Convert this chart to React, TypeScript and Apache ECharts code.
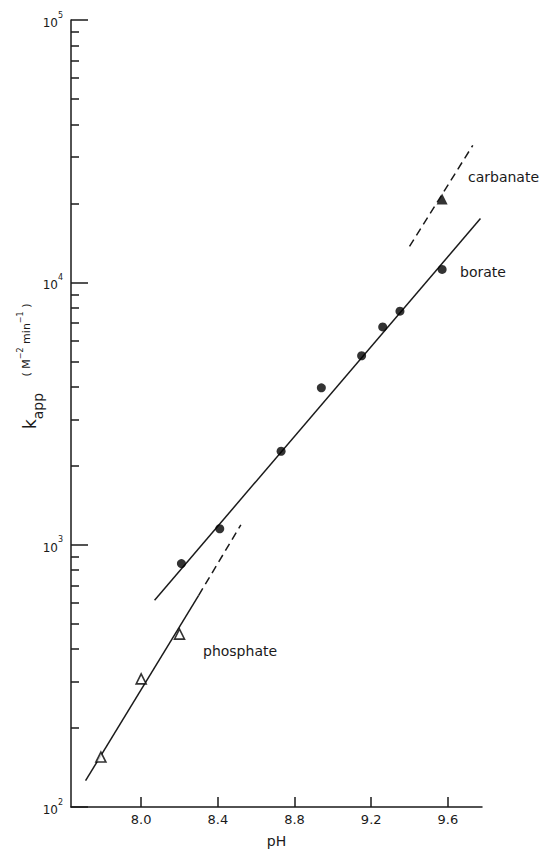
import React, { useEffect, useRef } from "react";
import * as echarts from "echarts";

const FONT = "'DejaVu Sans', 'Liberation Sans', sans-serif";
const INK = "#1a1a1a";

// pH axis
const X_MIN = 7.634;
const X_MAX = 9.778;
const xTicks = [8.0, 8.4, 8.8, 9.2, 9.6];

// k_app axis (decade exponents and minor tick values)
const yDecadeMin = 2;
const yDecadeMax = 5;
const yMinorTicks = [
  200, 300, 400, 500, 600, 700, 800, 900,
  2000, 3000, 4000, 5000, 6000, 7000, 8000, 9000,
  20000, 30000, 40000, 50000, 60000, 70000, 80000, 90000,
];

// measured points
const boratePH = [8.21, 8.41, 8.73, 8.94, 9.15, 9.26, 9.35, 9.57];
const borateK = [847, 1150, 2270, 3960, 5250, 6760, 7760, 11200];
const phosphatePH = [7.79, 8.0, 8.2];
const phosphateK = [155, 308, 456];
const carbonatePH = [9.57];
const carbonateK = [20800];

// fitted lines
const borateFitPH = [8.07, 9.77];
const borateFitK = [614, 17500];
const phosphateFitPH = [7.71, 8.3];
const phosphateFitK = [126, 641];
const phosphateExtPH = [8.3, 8.52];
const phosphateExtK = [641, 1190];
const carbonateFitPH = [9.4, 9.73];
const carbonateFitK = [13700, 33300];

const lg = (v: number) => Math.log10(v);
const pairs = (xs: number[], ks: number[]) => xs.map((x, i) => [x, lg(ks[i])]);

export default function App() {
  const ref = useRef<HTMLDivElement>(null);

  useEffect(() => {
    const chart = echarts.init(ref.current!, null, { renderer: "svg" });

    const lineSeries = (name: string, data: number[][], dashed: boolean) => ({
      name,
      type: "line",
      data,
      symbol: "none",
      showSymbol: false,
      silent: true,
      z: 2,
      lineStyle: { color: INK, width: 1.5, type: dashed ? [8, 5] : "solid" },
    });

    chart.setOption({
      animation: false,
      backgroundColor: "#ffffff",
      grid: { left: 71, right: 58, top: 20, bottom: 42 },
      xAxis: {
        type: "value",
        min: X_MIN,
        max: X_MAX,
        name: "pH",
        nameLocation: "middle",
        nameGap: 27,
        nameTextStyle: { color: INK, fontSize: 14, fontFamily: FONT },
        axisLine: { show: true, onZero: false, lineStyle: { color: INK, width: 1.5 } },
        axisTick: {
          show: true,
          inside: true,
          length: 10,
          customValues: xTicks,
          lineStyle: { color: INK, width: 1.5 },
        },
        axisLabel: {
          show: true,
          customValues: xTicks,
          formatter: (v: number) => v.toFixed(1),
          margin: 6,
          color: INK,
          fontSize: 13,
          fontFamily: FONT,
        },
        splitLine: { show: false },
      },
      yAxis: [
        {
          type: "value",
          min: yDecadeMin,
          max: yDecadeMax,
          interval: 1,
          position: "left",
          axisLine: { show: true, onZero: false, lineStyle: { color: INK, width: 1.5 } },
          axisTick: { show: true, inside: true, length: 17, lineStyle: { color: INK, width: 1.5 } },
          axisLabel: {
            margin: 8,
            formatter: (v: number) => `{b|10}{s|${v}}`,
            rich: {
              b: { fontSize: 12, fontFamily: FONT, color: INK, lineHeight: 18, verticalAlign: "bottom" },
              s: { fontSize: 8, fontFamily: FONT, color: INK, lineHeight: 18, verticalAlign: "top" },
            },
          },
          splitLine: { show: false },
        },
        {
          type: "value",
          min: yDecadeMin,
          max: yDecadeMax,
          position: "left",
          offset: 0,
          axisLine: { show: false },
          axisTick: {
            show: true,
            inside: true,
            length: 8,
            customValues: yMinorTicks.map(lg),
            lineStyle: { color: INK, width: 1.5 },
          },
          axisLabel: { show: false },
          splitLine: { show: false },
        },
      ],
      series: [
        lineSeries("borate fit", pairs(borateFitPH, borateFitK), false),
        lineSeries("phosphate fit", pairs(phosphateFitPH, phosphateFitK), false),
        lineSeries("phosphate ext", pairs(phosphateExtPH, phosphateExtK), true),
        lineSeries("carbonate fit", pairs(carbonateFitPH, carbonateFitK), true),
        {
          name: "borate",
          type: "scatter",
          data: pairs(boratePH, borateK),
          symbol: "circle",
          symbolSize: 9,
          z: 5,
          itemStyle: { color: "#000" },
        },
        {
          name: "phosphate",
          type: "scatter",
          data: pairs(phosphatePH, phosphateK),
          symbol: "triangle",
          symbolSize: 10,
          z: 5,
          itemStyle: { color: "#fff", borderColor: "#000", borderWidth: 1.6 },
        },
        {
          name: "carbanate",
          type: "scatter",
          data: pairs(carbonatePH, carbonateK),
          symbol: "triangle",
          symbolSize: 11,
          z: 5,
          itemStyle: { color: "#000" },
        },
      ],
      graphic: [
        {
          type: "text",
          x: 468,
          y: 177,
          style: { text: "carbanate", fill: INK, fontSize: 14, fontFamily: FONT, align: "left", verticalAlign: "middle" },
        },
        {
          type: "text",
          x: 460,
          y: 272,
          style: { text: "borate", fill: INK, fontSize: 14, fontFamily: FONT, align: "left", verticalAlign: "middle" },
        },
        {
          type: "text",
          x: 203,
          y: 651,
          style: { text: "phosphate", fill: INK, fontSize: 14, fontFamily: FONT, align: "left", verticalAlign: "middle" },
        },
        {
          type: "text",
          x: 33,
          y: 411,
          rotation: Math.PI / 2,
          style: {
            text: "{k|k}{sub|app}",
            align: "center",
            verticalAlign: "middle",
            fill: INK,
            rich: {
              k: { fontSize: 17, fontFamily: FONT, fill: INK, lineHeight: 24, verticalAlign: "top" },
              sub: { fontSize: 14, fontFamily: FONT, fill: INK, lineHeight: 24, verticalAlign: "bottom" },
            },
          },
        },
        {
          type: "text",
          x: 24,
          y: 340,
          rotation: Math.PI / 2,
          style: {
            text: "{u|( M}{p|−2}{u| min}{p|−1}{u| )}",
            align: "center",
            verticalAlign: "middle",
            fill: INK,
            rich: {
              u: { fontSize: 11, fontFamily: FONT, fill: INK, lineHeight: 16, verticalAlign: "bottom" },
              p: { fontSize: 8, fontFamily: FONT, fill: INK, lineHeight: 16, verticalAlign: "top" },
            },
          },
        },
      ],
    });

    return () => chart.dispose();
  }, []);

  return (
    <div
      ref={ref}
      style={{ position: "fixed", left: 0, top: 0, width: 540, height: 853, background: "#fff" }}
    />
  );
}
